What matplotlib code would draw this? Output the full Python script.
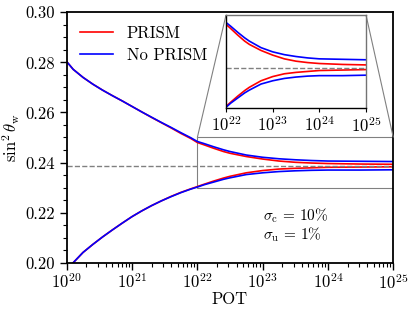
import matplotlib
matplotlib.use('Agg')
import matplotlib.pyplot as plt
import numpy as np
from matplotlib.ticker import MultipleLocator, LogLocator, NullLocator, FixedLocator
from mpl_toolkits.axes_grid1.inset_locator import mark_inset

plt.rcParams['font.family'] = 'serif'
plt.rcParams['font.serif'] = ['cmr10']
plt.rcParams['mathtext.fontset'] = 'cm'
plt.rcParams['axes.formatter.use_mathtext'] = True
plt.rcParams['font.size'] = 12

# Data (log10 of POT and sin^2 theta_w bands)
log_pot = [20.0, 20.1, 20.25, 20.4, 20.55, 20.7, 20.85, 21.0, 21.15, 21.3, 21.45,
           21.6, 21.75, 21.9, 22.0, 22.1, 22.25, 22.4, 22.5, 22.75, 23.0, 23.25,
           23.5, 23.75, 24.0, 24.5, 25.0]

noprism_upper = [0.2803, 0.2772, 0.2740, 0.2713, 0.2689, 0.2667, 0.2646, 0.2624, 0.2602,
                 0.2581, 0.2560, 0.2540, 0.2519, 0.2499, 0.2484, 0.2476, 0.2463, 0.2451,
                 0.2444, 0.2430, 0.2421, 0.2415, 0.2411, 0.2408, 0.2406, 0.2405, 0.2404]
noprism_lower = [0.1968, 0.2000, 0.2041, 0.2073, 0.2103, 0.2131, 0.2158, 0.2184, 0.2207,
                 0.2228, 0.2247, 0.2264, 0.2280, 0.2294, 0.2302, 0.2311, 0.2322, 0.2333,
                 0.2339, 0.2352, 0.2359, 0.2364, 0.2367, 0.2369, 0.2370, 0.2370, 0.2371]

prism_upper = [0.2803, 0.2772, 0.2740, 0.2713, 0.2689, 0.2667, 0.2646, 0.2624, 0.2602,
               0.2580, 0.2559, 0.2538, 0.2516, 0.2496, 0.2480, 0.2471, 0.2457, 0.2444,
               0.2437, 0.2424, 0.2414, 0.2406, 0.2401, 0.2398, 0.2396, 0.2394, 0.2393]
prism_lower = [0.1968, 0.2000, 0.2041, 0.2073, 0.2103, 0.2131, 0.2158, 0.2184, 0.2207,
               0.2228, 0.2247, 0.2265, 0.2281, 0.2295, 0.2304, 0.2313, 0.2326, 0.2338,
               0.2345, 0.2359, 0.2368, 0.2374, 0.2377, 0.2379, 0.2381, 0.2382, 0.2383]

sin2_ref = 0.23867
sigma_text = r'$\sigma_{\rm c}\,=\,10\%$' + '\n' + r'$\sigma_{\rm u}\,=\,1\%$'

pot = 10.0 ** np.array(log_pot)

fig = plt.figure(figsize=(4.15, 3.12), dpi=100)
ax = fig.add_axes([0.1607, 0.158, 0.787, 0.8026])

def draw_curves(a):
    a.plot(pot, prism_upper, color='red', lw=1.2, label='PRISM')
    a.plot(pot, prism_lower, color='red', lw=1.2)
    a.plot(pot, noprism_upper, color='blue', lw=1.2, label='No PRISM')
    a.plot(pot, noprism_lower, color='blue', lw=1.2)
    a.axhline(sin2_ref, color='gray', ls='--', lw=1.0)

draw_curves(ax)
ax.set_xscale('log')
ax.set_xlim(1e20, 1e25)
ax.set_ylim(0.20, 0.30)
ax.yaxis.set_major_locator(MultipleLocator(0.02))
ax.yaxis.set_minor_locator(MultipleLocator(0.005))
ax.yaxis.set_major_formatter(plt.FormatStrFormatter('%.2f'))
ax.xaxis.set_major_locator(FixedLocator([1e20, 1e21, 1e22, 1e23, 1e24, 1e25]))
ax.xaxis.set_minor_locator(LogLocator(base=10, subs=np.arange(2, 10), numticks=20))
ax.tick_params(which='major', direction='out', length=5, width=1.0, labelsize=12)
ax.tick_params(axis='x', which='major', pad=2)
ax.tick_params(which='minor', direction='out', length=3, width=0.8)
for s in ax.spines.values():
    s.set_linewidth(1.3)
ax.set_xlabel('POT', fontsize=12, labelpad=0)
ax.set_ylabel(r'$\sin^2\theta_{\rm w}$', fontsize=12, labelpad=2)

ax.legend(loc='upper left', frameon=False, fontsize=12, handlelength=2.0,
          borderaxespad=0.4, labelspacing=0.4)
ax.text(0.60, 0.149, sigma_text, transform=ax.transAxes,
        fontsize=11, ha='left', va='center', linespacing=1.0)

# Inset zoom
axins = ax.inset_axes([0.4878, 0.6166, 0.4287, 0.3726])
draw_curves(axins)
axins.set_xscale('log')
axins.set_xlim(1e22, 1e25)
axins.set_ylim(0.23, 0.25)
axins.xaxis.set_major_locator(FixedLocator([1e22, 1e23, 1e24, 1e25]))
axins.xaxis.set_minor_locator(NullLocator())
axins.yaxis.set_major_locator(NullLocator())
axins.yaxis.set_minor_locator(NullLocator())
axins.tick_params(which='major', direction='out', length=3, width=0.8, labelsize=12, pad=2)
for side in ['top', 'right']:
    axins.spines[side].set_color('0.45')
for s in axins.spines.values():
    s.set_linewidth(1.0)

mark_inset(ax, axins, loc1=2, loc2=1, fc='none', ec='0.5', lw=0.8)

plt.savefig('out.png', dpi=100)
